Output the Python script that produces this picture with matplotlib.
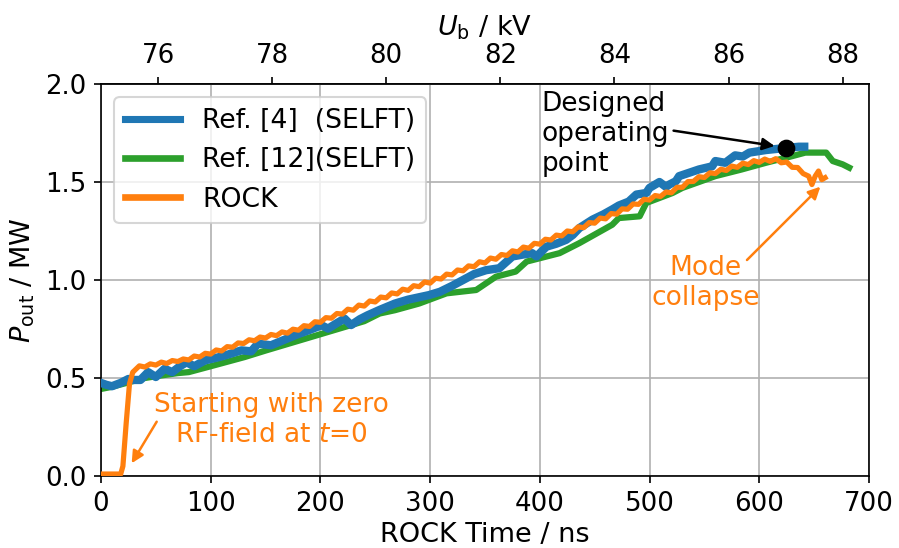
import matplotlib
matplotlib.use("Agg")
import matplotlib.pyplot as plt
import numpy as np
from matplotlib.lines import Line2D

plt.rcParams["font.size"] = 12
plt.rcParams["xtick.labelsize"] = 12.5
plt.rcParams["ytick.labelsize"] = 12.5
plt.rcParams["axes.labelsize"] = 13

# ---- data ----
ref4_t = [0, 5, 10, 18, 25, 30, 36, 43, 50, 58, 65, 72, 78, 85, 95, 108, 116, 128, 137, 143,
          155, 165, 177, 190, 201, 207, 215, 222, 228, 236, 243, 255, 268, 280, 299, 309, 320,
          330, 340, 351, 363, 375, 385, 393, 397, 406, 415, 424, 430, 436, 448, 458, 466, 472,
          481, 488, 497, 500, 509, 515, 518, 524, 527, 536, 545, 557, 560, 569, 578, 585, 591,
          606, 618, 636, 641]
ref4_p = [0.475, 0.465, 0.458, 0.475, 0.495, 0.49, 0.49, 0.53, 0.505, 0.547, 0.53, 0.56, 0.58,
          0.56, 0.59, 0.607, 0.62, 0.641, 0.636, 0.675, 0.667, 0.69, 0.718, 0.745, 0.769, 0.752,
          0.78, 0.803, 0.77, 0.80, 0.82, 0.85, 0.88, 0.90, 0.923, 0.94, 0.97, 1.0, 1.03, 1.05,
          1.06, 1.12, 1.13, 1.137, 1.12, 1.17, 1.185, 1.205, 1.23, 1.265, 1.308, 1.335, 1.36,
          1.38, 1.40, 1.436, 1.444, 1.47, 1.50, 1.475, 1.487, 1.504, 1.53, 1.547, 1.564, 1.58,
          1.607, 1.598, 1.636, 1.63, 1.65, 1.663, 1.67, 1.68, 1.68]

ref12_t = [0, 10, 20, 30, 40, 55, 70, 80, 100, 131, 150, 180, 210, 240, 254, 268, 290, 315,
           342, 360, 378, 388, 418, 436, 466, 472, 491, 497, 521, 530, 545, 560, 584, 606,
           630, 642, 661, 667, 676, 682]
ref12_p = [0.444, 0.455, 0.47, 0.485, 0.50, 0.513, 0.525, 0.53, 0.56, 0.607, 0.64, 0.69, 0.74,
           0.79, 0.829, 0.846, 0.88, 0.932, 0.949, 1.017, 1.043, 1.094, 1.137, 1.188, 1.282,
           1.316, 1.325, 1.393, 1.444, 1.47, 1.50, 1.53, 1.564, 1.598, 1.632, 1.65, 1.65,
           1.607, 1.59, 1.573]

rock_t = [0, 18, 20, 23, 26, 29,
          30, 35, 40, 45, 50, 55, 60, 65, 70, 75, 80, 85, 90, 95, 100, 105, 110, 115, 120,
          125, 130, 135, 140, 145, 150, 155, 160, 165, 170, 175, 180, 185, 190, 195, 200,
          205, 210, 215, 220, 225, 230, 235, 240, 245, 250, 255, 260, 265, 270, 275, 280,
          285, 290, 295, 300, 305, 310, 315, 320, 325, 330, 335, 340, 345, 350, 355, 360,
          365, 370, 375, 380, 385, 390, 395, 400, 405, 410, 415, 420, 425, 430, 435, 440,
          445, 450, 455, 460, 465, 470, 475, 480, 485, 490, 495, 500, 505, 510, 515, 520,
          525, 530, 535, 540, 545, 550, 555, 560, 565, 570, 575, 580, 585, 590, 595, 600,
          605, 610, 615, 620, 625, 630, 635, 640, 645, 648, 651, 654, 657, 660]
rock_p = [0.01, 0.01, 0.05, 0.27, 0.47, 0.53,
          0.535, 0.562, 0.556, 0.572, 0.566, 0.581, 0.574, 0.589, 0.584, 0.597, 0.592, 0.612,
          0.607, 0.626, 0.622, 0.643, 0.638, 0.660, 0.657, 0.679, 0.676, 0.695, 0.690, 0.709,
          0.704, 0.722, 0.716, 0.735, 0.729, 0.749, 0.744, 0.767, 0.763, 0.787, 0.784, 0.808,
          0.805, 0.829, 0.826, 0.851, 0.846, 0.872, 0.867, 0.893, 0.888, 0.913, 0.909, 0.934,
          0.929, 0.953, 0.947, 0.971, 0.966, 0.990, 0.984, 1.009, 1.005, 1.030, 1.026, 1.051,
          1.047, 1.072, 1.068, 1.093, 1.087, 1.112, 1.106, 1.130, 1.125, 1.149, 1.143, 1.168,
          1.162, 1.187, 1.183, 1.208, 1.204, 1.229, 1.225, 1.250, 1.246, 1.271, 1.267, 1.293,
          1.290, 1.316, 1.312, 1.339, 1.336, 1.363, 1.361, 1.388, 1.386, 1.412, 1.408, 1.431,
          1.426, 1.449, 1.445, 1.473, 1.473, 1.502, 1.503, 1.527, 1.523, 1.547, 1.543, 1.565,
          1.559, 1.581, 1.575, 1.596, 1.589, 1.609, 1.600, 1.617, 1.605, 1.619, 1.598, 1.602,
          1.575, 1.574, 1.543, 1.530, 1.487, 1.530, 1.556, 1.512, 1.522]

op_t = [624.5]
op_p = [1.673]

x_ticks = [0, 100, 200, 300, 400, 500, 600, 700]
y_ticks = [0.0, 0.5, 1.0, 1.5, 2.0]
ub_ticks = [76, 78, 80, 82, 84, 86, 88]

C_BLUE = "#1f77b4"
C_GREEN = "#2ca02c"
C_ORANGE = "#ff7f0e"

fig = plt.figure(figsize=(899 / 150, 548 / 150), dpi=150)
ax = fig.add_axes([0.1123, 0.1314, 0.8543, 0.7153])

ax.grid(True, color="#b0b0b0", lw=0.8, zorder=0)
ax.set_axisbelow(True)

l4, = ax.plot(ref4_t, ref4_p, color=C_BLUE, lw=4.0, zorder=3,
              label="Ref. [4]  (SELFT)")
l12, = ax.plot(ref12_t, ref12_p, color=C_GREEN, lw=3.0, zorder=2,
               label="Ref. [12](SELFT)")
lr, = ax.plot(rock_t, rock_p, color=C_ORANGE, lw=2.5, zorder=4, label="ROCK")
ax.plot(op_t, op_p, "o", color="black", ms=7.5, zorder=6)

ax.set_xlim(0, 700)
ax.set_ylim(0, 2.0)
ax.set_xticks(x_ticks)
ax.set_yticks(y_ticks)
ax.set_xlabel("ROCK Time / ns", labelpad=2.5)
ax.set_ylabel(r"$P_\mathrm{out}$ / MW")

sec = ax.secondary_xaxis("top", functions=(lambda t: 75 + np.asarray(t) / 52.0,
                                           lambda u: (np.asarray(u) - 75) * 52.0))
sec.set_xticks(ub_ticks)
sec.set_xlabel(r"$U_\mathrm{b}$ / kV")

handles = [Line2D([], [], color=C_BLUE, lw=3.4),
           Line2D([], [], color=C_GREEN, lw=3.2),
           Line2D([], [], color=C_ORANGE, lw=3.2)]
ax.legend(handles, [l4.get_label(), l12.get_label(), lr.get_label()],
          loc="upper left", handlelength=2.05, handletextpad=0.85,
          labelspacing=0.5, fontsize=12.8)

# annotations
AFS = 12.7
ax.text(401.8, 1.745, "Designed\noperating\npoint", ha="left", va="center",
        color="black", zorder=7, fontsize=AFS)
ax.annotate("", xy=(614.0, 1.684), xytext=(521.9, 1.762),
            arrowprops=dict(arrowstyle="-|>", color="black", lw=1.2,
                            shrinkA=0, shrinkB=0, mutation_scale=12), zorder=7)

ax.text(155.5, 0.286, "Starting with zero\nRF-field at $t$=0", ha="center",
        va="center", color=C_ORANGE, multialignment="center", zorder=7, fontsize=AFS)
ax.annotate("", xy=(28.0, 0.065), xytext=(50.8, 0.277),
            arrowprops=dict(arrowstyle="-|>", color=C_ORANGE, lw=1.2,
                            shrinkA=0, shrinkB=0, mutation_scale=12), zorder=7)

ax.text(550.8, 0.985, "Mode\ncollapse", ha="center", va="center",
        color=C_ORANGE, multialignment="center", zorder=7, fontsize=AFS)
ax.annotate("", xy=(655.7, 1.476), xytext=(588.8, 1.102),
            arrowprops=dict(arrowstyle="-|>", color=C_ORANGE, lw=1.2,
                            shrinkA=0, shrinkB=0, mutation_scale=12), zorder=7)

fig.savefig("out.png", dpi=150)
